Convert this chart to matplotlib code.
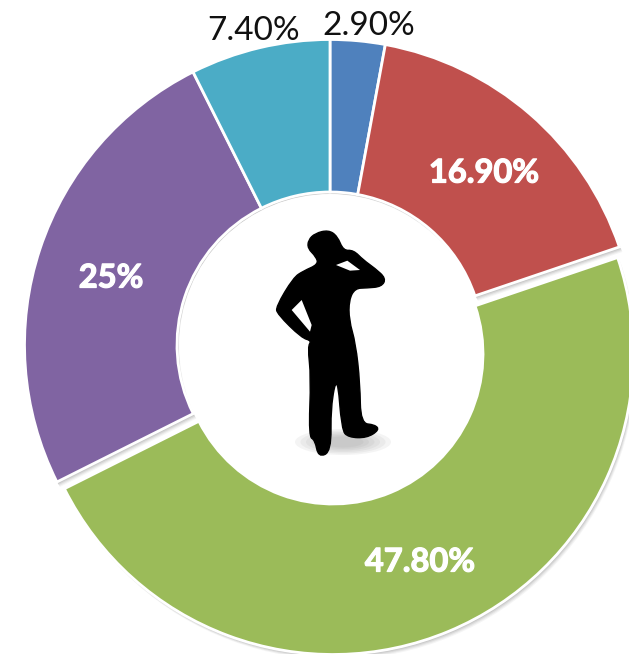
#!/usr/bin/env python3
"""
Donut chart with a thinking figure in the hole.
"""

import matplotlib
matplotlib.use("Agg")
import matplotlib.patheffects as pe
import matplotlib.pyplot as plt
from matplotlib.patches import Ellipse, PathPatch, Polygon, Wedge
from matplotlib.path import Path

labels = ["2.90%", "16.90%", "47.80%", "25%", "7.40%"]
values = [2.9, 16.9, 47.8, 25.0, 7.4]
colors = ["#4F81BD", "#C0504D", "#9BBB59", "#8064A2", "#4BACC6"]
label_colors = ["#111111", "white", "white", "white", "#111111"]
label_bold = [False, True, True, True, False]
label_pos = [(369, 26), (484, 173), (420, 562), (111, 278), (254, 31)]

W, H = 629, 654
CX, CY = 330, 345  # centre of the ring in pixels
R_OUT, R_IN = 305.5, 153

body = [
    (145, 90), (165, 70), (205, 60), (232, 78), (250, 122), (280, 120), (310, 150),
    (345, 175), (378, 205), (365, 230), (320, 234), (285, 235), (267, 270), (267, 330),
    (287, 400), (300, 520), (302, 640), (345, 644), (358, 660), (320, 684), (265, 682),
    (245, 660), (232, 490), (212, 590), (214, 725), (175, 742), (165, 690), (146, 680),
    (153, 500), (143, 410), (155, 392), (125, 384), (52, 312), (48, 290), (100, 203),
    (130, 183), (175, 163), (168, 140), (143, 115),
]
arm_gap = [(125, 270), (95, 300), (150, 365), (155, 345)]
neck_gap = [(228, 165), (262, 152), (300, 180), (270, 182)]


def to_px(points):
    return [(260 + x / 3, 210 + y / 3) for x, y in points]


def smooth_path(points):
    # quadratic curves through the midpoints, so the outline has no hard corners
    pts = to_px(points)
    n = len(pts)
    mid = [((pts[i][0] + pts[(i + 1) % n][0]) / 2, (pts[i][1] + pts[(i + 1) % n][1]) / 2)
           for i in range(n)]
    verts = [mid[-1]]
    codes = [Path.MOVETO]
    for i in range(n):
        verts += [pts[i], mid[i]]
        codes += [Path.CURVE3, Path.CURVE3]
    return Path(verts, codes)


def main():
    plt.rcParams["font.family"] = ["Lato", "DejaVu Sans"]
    fig = plt.figure(figsize=(W / 100, H / 100), dpi=100)
    ax = fig.add_axes([0, 0, 1, 1])
    ax.set_xlim(0, W)
    ax.set_ylim(H, 0)
    ax.axis("off")

    # clockwise from the top, the big slice pulled out and a bit smaller
    total = sum(values)
    angle = 90.0
    slices = []
    for val, col, name in zip(values, colors, labels):
        sweep = val / total * 360
        pulled = name == "47.80%"
        centre = (CX + 3, CY + 9) if pulled else (CX, CY)
        radius = 300.5 if pulled else R_OUT
        inner = 150 if pulled else R_IN
        slices.append((centre, radius, inner, -angle, -(angle - sweep), col))
        angle -= sweep

    # shadow first, then the slices on top (axis is flipped, so angles get mirrored)
    for centre, radius, inner, t1, t2, col in slices:
        for off, alpha in [(5, 0.06), (4, 0.08), (3, 0.1), (2, 0.12)]:
            ax.add_patch(Wedge((centre[0] + off * 0.6, centre[1] + off), radius, t1, t2,
                               width=radius - inner, facecolor="#555555", edgecolor="none", alpha=alpha))
    for centre, radius, inner, t1, t2, col in slices:
        ax.add_patch(Wedge(centre, radius, t1, t2, width=radius - inner,
                           facecolor=col, edgecolor="white", linewidth=2))

    for name, col, bold, pos in zip(labels, label_colors, label_bold, label_pos):
        t = ax.text(pos[0], pos[1], name, fontsize=24 if not bold else 23.5, color=col,
                    ha="center", va="center", fontweight="bold" if bold else "normal")
        if bold:
            t.set_path_effects([pe.withStroke(linewidth=0.9, foreground=col)])

    # white backing of the picture, then soft shadow under the feet
    ax.add_patch(Ellipse((CX, CY), 2 * R_IN - 4, 2 * R_IN - 4, facecolor="white", edgecolor="none"))
    for k in range(6):
        ax.add_patch(Ellipse((343, 442), 96 - k * 11, 26 - k * 3,
                             facecolor="#888888", edgecolor="none", alpha=0.09))
    ax.add_patch(PathPatch(smooth_path(body), facecolor="black", edgecolor="black", linewidth=1))
    ax.add_patch(Polygon(to_px(arm_gap), closed=True, facecolor="white", edgecolor="none"))
    ax.add_patch(Polygon(to_px(neck_gap), closed=True, facecolor="white", edgecolor="none"))

    fig.savefig("out.png", dpi=100)


if __name__ == "__main__":
    main()
